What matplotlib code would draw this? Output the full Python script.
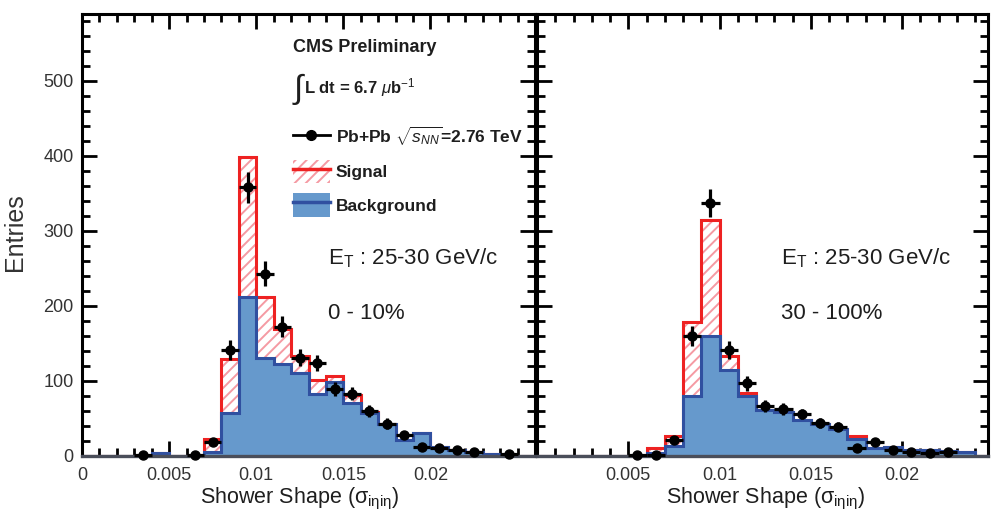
import numpy as np
import matplotlib
matplotlib.use("Agg")
import matplotlib.pyplot as plt
from matplotlib.patches import Patch
from matplotlib.lines import Line2D
from matplotlib.ticker import MultipleLocator, FixedLocator

BLUE_FILL, BLUE_LINE, RED, PINK = "#6699cc", "#3050a0", "#ee2222", "#f59aa3"
TXT = "#1e1e1e"
plt.rcParams.update({"font.family": ["Liberation Sans", "DejaVu Sans"],
                     "mathtext.fontset": "custom", "mathtext.rm": "Liberation Sans",
                     "mathtext.it": "Liberation Sans:italic", "mathtext.bf": "Liberation Sans:bold",
                     "hatch.linewidth": 1.4})

# ---- 0-10% centrality ----
edges_L = np.linspace(0, 0.026, 27)
bkg_L = [0, 0, 0, 0, 4, 0, 0, 5, 57, 212, 131, 123, 110, 83, 98, 71, 57, 43, 21, 31, 12, 8, 5, 2, 0, 0]
tot_L = [0, 0, 0, 0, 4, 0, 0, 22, 129, 399, 212, 169, 133, 101, 106, 81, 59, 43, 21, 31, 12, 8, 5, 2, 0, 0]
data_x_L = [0.0035, 0.0065, 0.0075, 0.0085, 0.0095, 0.0105, 0.0115, 0.0125, 0.0135, 0.0145,
            0.0155, 0.0165, 0.0175, 0.0185, 0.0195, 0.0205, 0.0215, 0.0225, 0.0245]
data_y_L = [1, 1, 18, 141, 358, 243, 172, 131, 124, 89, 83, 60, 43, 28, 12, 11, 8, 5, 3]
err_L = [1, 1, 4, 13, 21, 17, 14, 11, 11, 9, 9, 8, 7, 5, 3, 3, 3, 2, 2]

# ---- 30-100% centrality ----
edges_R = np.linspace(0, 0.025, 26)
bkg_R = [0, 0, 0, 0, 0, 0, 4, 13, 80, 160, 114, 80, 61, 59, 48, 43, 36, 22, 10, 12, 8, 8, 7, 5, 0]
tot_R = [0, 0, 0, 0, 0, 0, 10, 27, 178, 314, 133, 84, 61, 59, 48, 43, 36, 27, 10, 12, 8, 8, 7, 5, 0]
data_x_R = [0.0055, 0.0065, 0.0075, 0.0085, 0.0095, 0.0105, 0.0115, 0.0125, 0.0135,
            0.0145, 0.0155, 0.0165, 0.0175, 0.0185, 0.0195, 0.0205, 0.0215, 0.0225]
data_y_R = [1, 1, 21, 160, 337, 141, 97, 67, 62, 56, 44, 39, 11, 19, 8, 5, 4, 5]
err_R = [1, 1, 5, 13, 19, 12, 10, 8, 8, 7, 7, 6, 3, 4, 3, 2, 2, 2]

fig = plt.figure(figsize=(9.91, 5.16), dpi=100)
axL = fig.add_axes([82 / 991, 60 / 516, 453 / 991, 442 / 516])
axR = fig.add_axes([537 / 991, 60 / 516, 451 / 991, 442 / 516], sharey=axL)


def draw(ax, edges, bkg, tot, dx, dy, de, xmax):
    ax.stairs(tot, edges, fill=True, facecolor="white", edgecolor=PINK, hatch="///", lw=0)
    ax.stairs(tot, edges, color=RED, lw=2.2)
    ax.stairs(bkg, edges, fill=True, color=BLUE_FILL, lw=0)
    ax.stairs(bkg, edges, color=BLUE_LINE, lw=2.2)
    ax.errorbar(dx, dy, yerr=de, xerr=0.0005, fmt="o", color="black", ms=6.5,
                elinewidth=2.3, capsize=0, zorder=4, clip_on=False)
    ax.set_xlim(0, xmax)
    ax.set_ylim(0, 589)
    ax.set_axisbelow(True)
    ax.xaxis.set_minor_locator(MultipleLocator(0.001))
    ax.yaxis.set_major_locator(MultipleLocator(100))
    ax.yaxis.set_minor_locator(MultipleLocator(20))
    ax.tick_params(which="both", direction="in", top=True, right=True, width=2, color="black")
    ax.tick_params(which="major", length=10.5, labelsize=13, pad=6, labelcolor="#333333")
    ax.tick_params(which="minor", length=5.5)
    ax.tick_params(axis="x", which="major", pad=8)
    for s in ("left", "right", "top"):
        ax.spines[s].set_linewidth(2.2)
    ax.spines["bottom"].set_linewidth(2.4)
    ax.spines["bottom"].set_color("#4a4e5a")
    ax.set_xlabel("Shower Shape (\u03c3$_{\\rm i\\eta i\\eta}$)", fontsize=15.5, color=TXT)


draw(axL, edges_L, bkg_L, tot_L, data_x_L, data_y_L, err_L, 0.026)
draw(axR, edges_R, bkg_R, tot_R, data_x_R, data_y_R, err_R, 0.0247)

axL.xaxis.set_major_locator(FixedLocator([0, 0.005, 0.01, 0.015, 0.02]))
axL.set_xticklabels(["0", "0.005", "0.01", "0.015", "0.02"])
axR.xaxis.set_major_locator(FixedLocator([0.005, 0.01, 0.015, 0.02]))
axR.set_xticklabels(["0.005", "0.01", "0.015", "0.02"])
axR.tick_params(axis="y", labelleft=False)
axL.xaxis.set_label_coords(0.48, -0.068)
axR.xaxis.set_label_coords(0.508, -0.068)
axL.set_ylabel("Entries", fontsize=18, color="#333333")
axL.yaxis.set_label_coords(-0.122, 0.507)

# texts
axL.text(0.466, 0.925, "CMS Preliminary", transform=axL.transAxes, fontsize=13,
         fontweight="bold", va="center", color=TXT)
axL.text(0.466, 0.83, "\u222b", transform=axL.transAxes, fontsize=24, va="center", color=TXT)
axL.text(0.49, 0.833, r"L dt = 6.7 $\mu$b$^{-1}$", transform=axL.transAxes,
         fontsize=12, fontweight="bold", va="center", color=TXT)
handles = [Line2D([], [], color="black", lw=2, marker="o", ms=7),
           (Patch(facecolor="white", edgecolor=PINK, hatch="///", lw=0), Line2D([], [], color=RED, lw=2.5)),
           (Patch(facecolor=BLUE_FILL, lw=0), Line2D([], [], color=BLUE_LINE, lw=2.5))]
labels = [r"Pb+Pb $\sqrt{s_{NN}}$=2.76 TeV", "Signal", "Background"]
leg = axL.legend(handles, labels, loc="upper left", bbox_to_anchor=(0.466, 0.748),
                 frameon=False, borderpad=0, borderaxespad=0, handlelength=2.1,
                 handleheight=1.7, handletextpad=0.35, labelspacing=0.58,
                 prop={"size": 12.5, "weight": "bold"})
for t in leg.get_texts():
    t.set_color(TXT)
for ax, lab in ((axL, "0 - 10%"), (axR, "30 - 100%")):
    ax.text(0.542, 0.448, r"E$_{\rm T}$ : 25-30 GeV/c", transform=ax.transAxes,
            fontsize=16, va="center", color=TXT)
    ax.text(0.542, 0.3235, lab, transform=ax.transAxes, fontsize=16, va="center", color=TXT)

fig.savefig("out.png", dpi=100)
